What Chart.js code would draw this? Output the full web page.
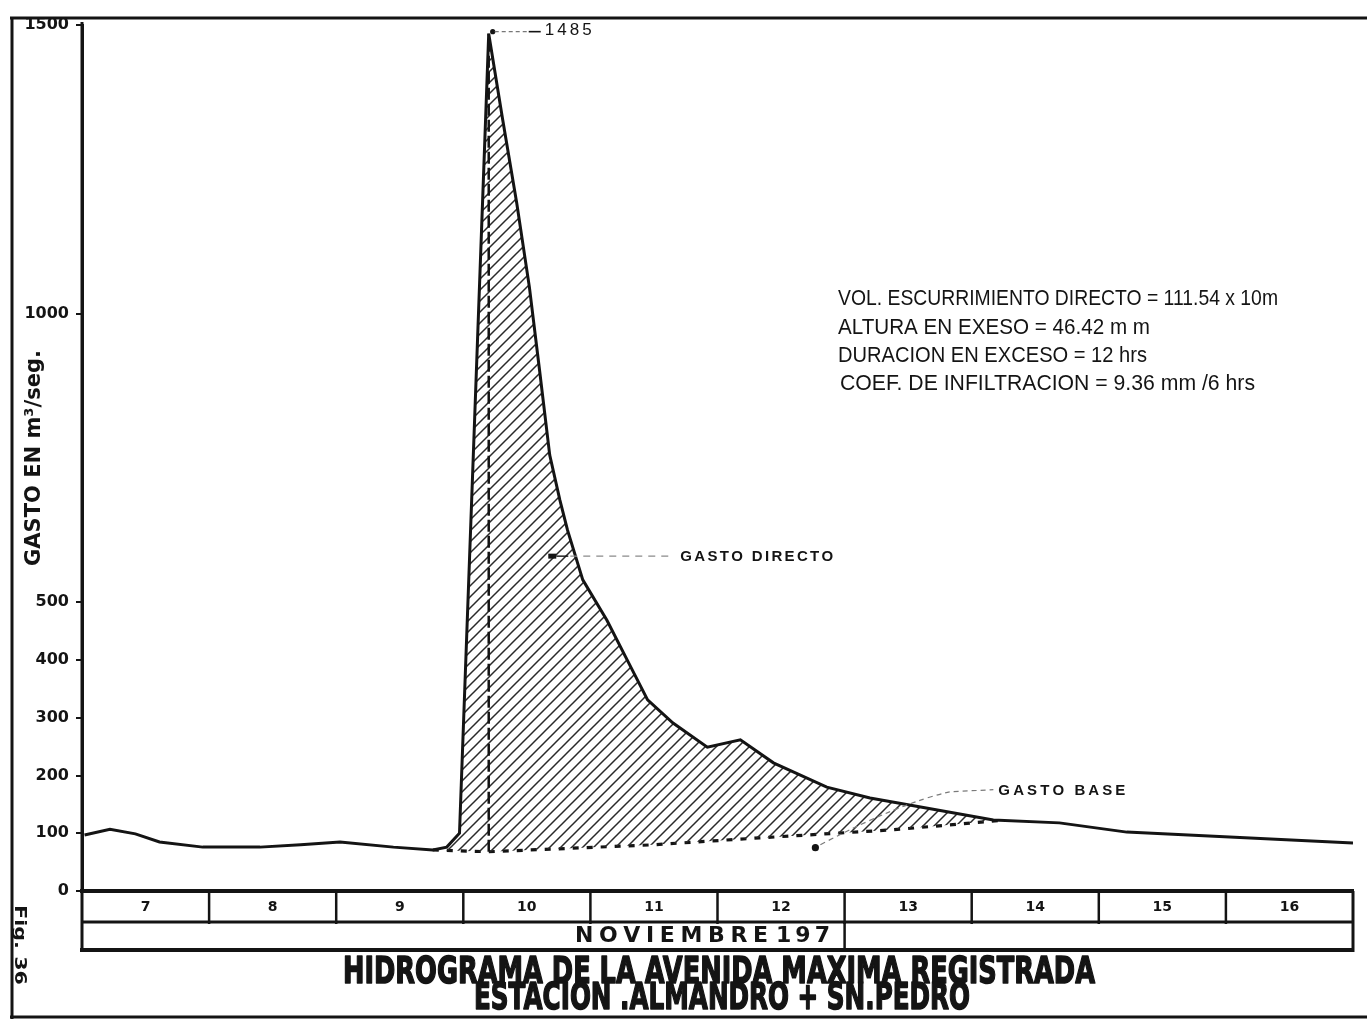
<!DOCTYPE html>
<html lang="es">
<head>
<meta charset="utf-8">
<title>Hidrograma de la avenida máxima registrada</title>
<script src="https://cdn.jsdelivr.net/npm/chart.js@4.4.0/dist/chart.umd.min.js"></script>
<style>
  html, body { margin: 0; padding: 0; background: #ffffff; }
  canvas { display: block; }
</style>
</head>
<body>
<canvas id="hidrograma" width="1367" height="1022"></canvas>
<script>
// Días de noviembre (celdas del eje horizontal) y marcas del eje de gastos
const dayLabels   = ['7', '8', '9', '10', '11', '12', '13', '14', '15', '16'];
const yTickValues = [0, 100, 200, 300, 400, 500, 1000, 1500];

// Hidrograma total: día (decimal) y gasto en m3/seg
const flowDays   = [7.02, 7.22, 7.42, 7.61, 7.95, 8.40, 8.72, 9.03, 9.45, 9.76, 9.87, 9.97,
                    10.20, 10.31, 10.42, 10.52, 10.60, 10.68, 10.76, 10.82, 10.94, 11.13,
                    11.29, 11.45, 11.65, 11.92, 12.18, 12.44, 12.86, 13.20, 13.51, 14.17,
                    14.69, 15.22, 17.00];
const flowValues = [97, 107, 99, 85, 76, 76, 80, 85, 76, 71, 76, 100,
                    1485, 1336, 1192, 1046, 902, 755, 677, 625, 539, 469,
                    400, 331, 291, 249, 262, 222, 180, 161, 149, 123,
                    118, 102, 83];

// Gasto base (línea de separación)
const baseDays   = [9.76, 10.20, 11.49, 12.33, 13.38, 14.22];
const baseValues = [71, 68, 80, 92, 106, 122];

// Puntos de referencia de las notas
const directoAnchor = { x: 10.70, y: 580 };
const baseAnchor    = { x: 12.77, y: 75 };

const infoLines = [
  'VOL. ESCURRIMIENTO DIRECTO = 111.54 x 10m',
  'ALTURA EN EXESO = 46.42 m m',
  'DURACION EN EXCESO = 12 hrs',
  'COEF. DE INFILTRACION = 9.36 mm /6 hrs'
];

const INK = '#141414';

const toPoints = (xs, ys) => xs.map((x, i) => ({ x, y: ys[i] }));

const peakValue = Math.max(...flowValues);
const peakDay = flowDays[flowValues.indexOf(peakValue)];
const basePeakValue = baseValues[baseDays.indexOf(peakDay)];

// Rayado diagonal para el gasto directo
function hatchPattern() {
  const s = 11;
  const c = document.createElement('canvas');
  c.width = s; c.height = s;
  const g = c.getContext('2d');
  g.strokeStyle = '#2a2a2a';
  g.lineWidth = 1.5;
  g.beginPath();
  g.moveTo(-1, s + 1); g.lineTo(s + 1, -1);
  g.moveTo(-1, 1);     g.lineTo(1, -1);
  g.moveTo(s - 1, s + 1); g.lineTo(s + 1, s - 1);
  g.stroke();
  return g.createPattern(c, 'repeat');
}

// Texto comprimido/estirado a un ancho dado
function fitText(ctx, text, left, cy, width, font, heavy) {
  ctx.save();
  ctx.font = font;
  ctx.textAlign = 'left';
  ctx.textBaseline = 'middle';
  const w = ctx.measureText(text).width;
  ctx.translate(left, cy);
  ctx.scale(width / w, 1);
  if (heavy) {
    ctx.strokeStyle = ctx.fillStyle;
    ctx.lineWidth = heavy;
    ctx.lineJoin = 'round';
    ctx.strokeText(text, 0, 0);
  }
  ctx.fillText(text, 0, 0);
  ctx.restore();
}

// Texto con espaciado entre letras hasta cubrir un ancho dado
function spacedText(ctx, text, left, cy, width, font) {
  ctx.save();
  ctx.font = font;
  ctx.textAlign = 'left';
  ctx.textBaseline = 'middle';
  const chars = [...text];
  const widths = chars.map(ch => ctx.measureText(ch).width);
  const total = widths.reduce((a, b) => a + b, 0);
  if (total >= width) { ctx.restore(); fitText(ctx, text, left, cy, width, font); return; }
  const gap = (width - total) / (chars.length - 1);
  let x = left;
  chars.forEach((ch, i) => { ctx.fillText(ch, x, cy); x += widths[i] + gap; });
  ctx.restore();
}

function line(ctx, x1, y1, x2, y2, w, dash) {
  ctx.save();
  ctx.strokeStyle = INK;
  ctx.lineWidth = w;
  ctx.setLineDash(dash || []);
  ctx.beginPath();
  ctx.moveTo(x1, y1);
  ctx.lineTo(x2, y2);
  ctx.stroke();
  ctx.restore();
}

const notesPlugin = {
  id: 'notas',
  afterDatasetsDraw(chart) {
    const { ctx, scales: { x, y } } = chart;
    ctx.save();
    ctx.fillStyle = INK;

    // Gasto máximo
    const px = x.getPixelForValue(peakDay);
    const py = y.getPixelForValue(peakValue);
    ctx.beginPath(); ctx.arc(px + 4, py - 2, 2.6, 0, Math.PI * 2); ctx.fill();
    ctx.save(); ctx.strokeStyle = '#777'; ctx.lineWidth = 1.3; ctx.setLineDash([4, 3]);
    ctx.beginPath(); ctx.moveTo(px + 6, py - 2); ctx.lineTo(px + 40, py - 2); ctx.stroke(); ctx.restore();
    line(ctx, px + 40, py - 2, px + 52, py - 2, 1.6);
    spacedText(ctx, String(peakValue), px + 56, py - 3, 47, '17px "Liberation Sans", Arial, sans-serif');

    // Gasto directo
    const dx = x.getPixelForValue(directoAnchor.x);
    const dy = y.getPixelForValue(directoAnchor.y);
    ctx.fillRect(dx - 4, dy - 2.5, 8, 5);
    line(ctx, dx + 4, dy, dx + 16, dy, 1.4);
    ctx.save(); ctx.strokeStyle = '#8a8a8a'; ctx.lineWidth = 1.2; ctx.setLineDash([7, 6]);
    ctx.beginPath(); ctx.moveTo(dx + 18, dy); ctx.lineTo(dx + 122, dy); ctx.stroke(); ctx.restore();
    spacedText(ctx, 'GASTO DIRECTO', dx + 128, dy + 1, 153, 'bold 15px "Liberation Sans", Arial, sans-serif');

    // Gasto base
    const bx = x.getPixelForValue(baseAnchor.x);
    const by = y.getPixelForValue(baseAnchor.y);
    ctx.beginPath(); ctx.arc(bx, by, 3.6, 0, Math.PI * 2); ctx.fill();
    ctx.save(); ctx.strokeStyle = '#7a7a7a'; ctx.lineWidth = 1.2; ctx.setLineDash([5, 4]);
    ctx.beginPath();
    ctx.moveTo(bx + 5, by - 3);
    ctx.quadraticCurveTo(bx + 85, by - 45, bx + 135, by - 56);
    ctx.lineTo(bx + 178, by - 58);
    ctx.stroke(); ctx.restore();
    spacedText(ctx, 'GASTO BASE', bx + 183, by - 57, 127, 'bold 15px "Liberation Sans", Arial, sans-serif');

    // Datos de la avenida
    const infoFont = '22px "Liberation Sans Narrow", "Liberation Sans", Arial, sans-serif';
    const infoLayout = [
      { left: 838, cy: 299, width: 440 },
      { left: 838, cy: 328, width: 312 },
      { left: 838, cy: 356, width: 309 },
      { left: 840, cy: 384, width: 415 }
    ];
    infoLines.forEach((t, i) => {
      const L = infoLayout[i];
      fitText(ctx, t, L.left, L.cy, L.width, infoFont);
    });
    ctx.restore();
  },
  afterDraw(chart) {
    const { ctx, chartArea: a, scales: { x } } = chart;
    const W = chart.width;
    const row1 = a.bottom, row2 = a.bottom + 31, row3 = a.bottom + 59;

    // Tabla de fechas bajo el eje
    line(ctx, a.left - 2, row1, a.right + 1, row1, 4);
    line(ctx, a.left, row2, a.right, row2, 3);
    line(ctx, a.left - 2, row3, a.right + 1, row3, 4);
    line(ctx, a.left, a.top - 3, a.left, row3 + 2, 3);
    line(ctx, a.right, row1, a.right, row3 + 2, 3);
    for (let d = 8; d <= 16; d++) {
      const xp = x.getPixelForValue(d);
      line(ctx, xp, row1, xp, row2 + 2, 2.5);
    }
    const sep = x.getPixelForValue(13);
    line(ctx, sep, row2, sep, row3, 2.5);

    ctx.save();
    ctx.fillStyle = INK;
    spacedText(ctx, 'NOVIEMBRE', 575, row2 + 14, 193, 'bold 22px "DejaVu Sans", sans-serif');
    spacedText(ctx, '197', 776, row2 + 14, 54, 'bold 22px "DejaVu Sans", sans-serif');

    // Títulos
    fitText(ctx, 'HIDROGRAMA DE LA AVENIDA MAXIMA REGISTRADA', 343, 973, 752, 'bold 37px "DejaVu Sans", sans-serif', 1.6);
    fitText(ctx, 'ESTACION .ALMANDRO + SN.PEDRO', 474, 999, 496, 'bold 37px "DejaVu Sans", sans-serif', 1.6);

    // Número de figura
    ctx.save();
    ctx.translate(19, 945);
    ctx.rotate(Math.PI / 2);
    fitText(ctx, 'Fig. 36', -40, 0, 80, 'bold 15px "DejaVu Sans", sans-serif');
    ctx.restore();
    ctx.restore();

    // Marco
    line(ctx, 10, 18, W, 18, 3);
    line(ctx, 12, 17, 12, 1019, 3);
    line(ctx, 10, 1017, W, 1017, 3);
  }
};

new Chart(document.getElementById('hidrograma'), {
  type: 'line',
  data: {
    datasets: [
      {
        label: 'Gasto total',
        data: toPoints(flowDays, flowValues),
        borderColor: INK,
        borderWidth: 3,
        pointRadius: 0,
        tension: 0,
        fill: { target: 1 },
        backgroundColor: hatchPattern(),
        order: 1
      },
      {
        label: 'Gasto base',
        data: toPoints(baseDays, baseValues),
        borderColor: INK,
        borderWidth: 3.2,
        borderDash: [6, 8],
        pointRadius: 0,
        tension: 0,
        fill: false,
        order: 2
      },
      {
        label: 'Instante del pico',
        data: [{ x: peakDay, y: basePeakValue }, { x: peakDay, y: peakValue }],
        borderColor: INK,
        borderWidth: 2.5,
        borderDash: [12, 4],
        pointRadius: 0,
        fill: false,
        order: 0
      }
    ]
  },
  options: {
    responsive: false,
    animation: false,
    events: [],
    layout: { padding: { left: 0, right: 14, top: 25, bottom: 100 } },
    plugins: {
      legend: { display: false },
      tooltip: { enabled: false },
      title: { display: false }
    },
    scales: {
      x: {
        type: 'linear',
        min: 7,
        max: 17,
        afterFit(s) { s.height = 31; },
        afterBuildTicks(s) { s.ticks = dayLabels.map((_, i) => ({ value: 7.5 + i })); },
        grid: { display: false, drawTicks: false },
        border: { display: false },
        ticks: {
          autoSkip: false,
          maxRotation: 0,
          padding: 8,
          color: INK,
          font: { family: '"DejaVu Sans", sans-serif', size: 14, weight: 'bold' },
          callback: (v) => dayLabels[Math.round(v - 7.5)]
        }
      },
      y: {
        type: 'linear',
        min: 0,
        max: 1500,
        afterFit(s) { s.width = 82; },
        afterBuildTicks(s) { s.ticks = yTickValues.map(v => ({ value: v })); },
        grid: { drawOnChartArea: false, drawTicks: true, tickLength: 6, color: INK, lineWidth: 2 },
        border: { display: true, color: INK, width: 3 },
        ticks: {
          autoSkip: false,
          padding: 7,
          color: INK,
          font: { family: '"DejaVu Sans", sans-serif', size: 16, weight: 'bold' },
          callback: (v) => String(v)
        },
        title: {
          display: true,
          text: 'GASTO EN m³/seg.',
          color: INK,
          padding: { top: 22, bottom: 0 },
          font: { family: '"DejaVu Sans", sans-serif', size: 21, weight: 'bold' }
        }
      }
    }
  },
  plugins: [notesPlugin]
});
</script>
</body>
</html>
